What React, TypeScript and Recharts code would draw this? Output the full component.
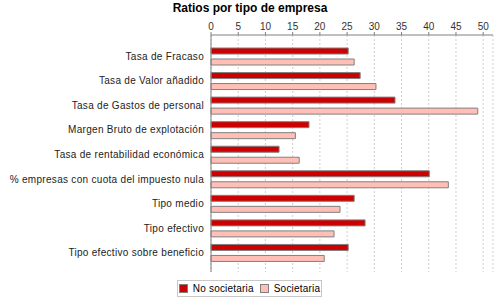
import { BarChart, Bar, XAxis, YAxis, CartesianGrid } from 'recharts';

const FONT = '"Liberation Sans", Arial, sans-serif';
const RED = '#CC0000';
const PINK = '#FFBFB6';
const EDGE = '#808080';

const categories = [
  'Tasa de Fracaso',
  'Tasa de Valor añadido',
  'Tasa de Gastos de personal',
  'Margen Bruto de explotación',
  'Tasa de rentabilidad económica',
  '% empresas con cuota del impuesto nula',
  'Tipo medio',
  'Tipo efectivo',
  'Tipo efectivo sobre beneficio',
];
const noSocietaria = [25.2, 27.4, 33.8, 18.0, 12.5, 40.1, 26.3, 28.3, 25.2];
const societaria = [26.3, 30.3, 49.0, 15.5, 16.2, 43.6, 23.7, 22.6, 20.8];
const xTicks = [0, 5, 10, 15, 20, 25, 30, 35, 40, 45, 50];

const data = categories.map((name, i) => ({
  name,
  noSoc: noSocietaria[i],
  soc: societaria[i],
}));

// single-line category label (the default tick wraps long names)
function CategoryTick({ x, y, payload }: any) {
  return (
    <text
      x={x - 5}
      y={y}
      dy="0.35em"
      textAnchor="end"
      fontSize={10}
      fill="#222"
      fontFamily={FONT}
      letterSpacing={0.3}
    >
      {payload.value}
    </text>
  );
}

function LegendSwatch({ color, label }: { color: string; label: string }) {
  return (
    <span style={{ display: 'flex', alignItems: 'center', gap: 5 }}>
      <span style={{ width: 7, height: 7, background: color, border: `1px solid ${EDGE}` }} />
      <span>{label}</span>
    </span>
  );
}

export default function App() {
  return (
    <div style={{ position: 'absolute', left: 0, top: 0, width: 500, height: 300, background: '#fff', fontFamily: FONT }}>
      <div
        style={{
          position: 'absolute', top: 1, left: 0, width: 500, textAlign: 'center',
          fontWeight: 700, fontSize: 12, color: '#000',
        }}
      >
        Ratios por tipo de empresa
      </div>
      <BarChart
        width={500}
        height={300}
        data={data}
        layout="vertical"
        margin={{ top: 15, right: 7, bottom: 28, left: 0 }}
        barSize={6}
        barGap={5}
      >
        <CartesianGrid horizontal={false} stroke="#cfcfcf" strokeDasharray="2 2" />
        <XAxis
          type="number"
          orientation="top"
          domain={[0, 51.8]}
          ticks={xTicks}
          height={20}
          stroke={EDGE}
          tickSize={3}
          tickMargin={2}
          tick={{ fontSize: 10, fill: '#333', fontFamily: FONT }}
        />
        <YAxis
          type="category"
          dataKey="name"
          width={211}
          stroke={EDGE}
          tickLine={false}
          tickSize={0}
          padding={{ top: 9, bottom: 7 }}
          interval={0}
          tick={<CategoryTick />}
        />
        <Bar dataKey="noSoc" name="No societaria" fill={RED} stroke={EDGE} strokeWidth={1} isAnimationActive={false} />
        <Bar dataKey="soc" name="Societaria" fill={PINK} stroke={EDGE} strokeWidth={1} isAnimationActive={false} />
      </BarChart>
      {/* legend box under the plot */}
      <div
        style={{
          position: 'absolute', left: 177, top: 280, width: 145, height: 17, boxSizing: 'border-box',
          border: '1px solid #c8c8c8', display: 'flex', alignItems: 'center', justifyContent: 'center',
          gap: 6, fontSize: 10, letterSpacing: 0.2, color: '#000',
        }}
      >
        <LegendSwatch color={RED} label="No societaria" />
        <LegendSwatch color={PINK} label="Societaria" />
      </div>
    </div>
  );
}
